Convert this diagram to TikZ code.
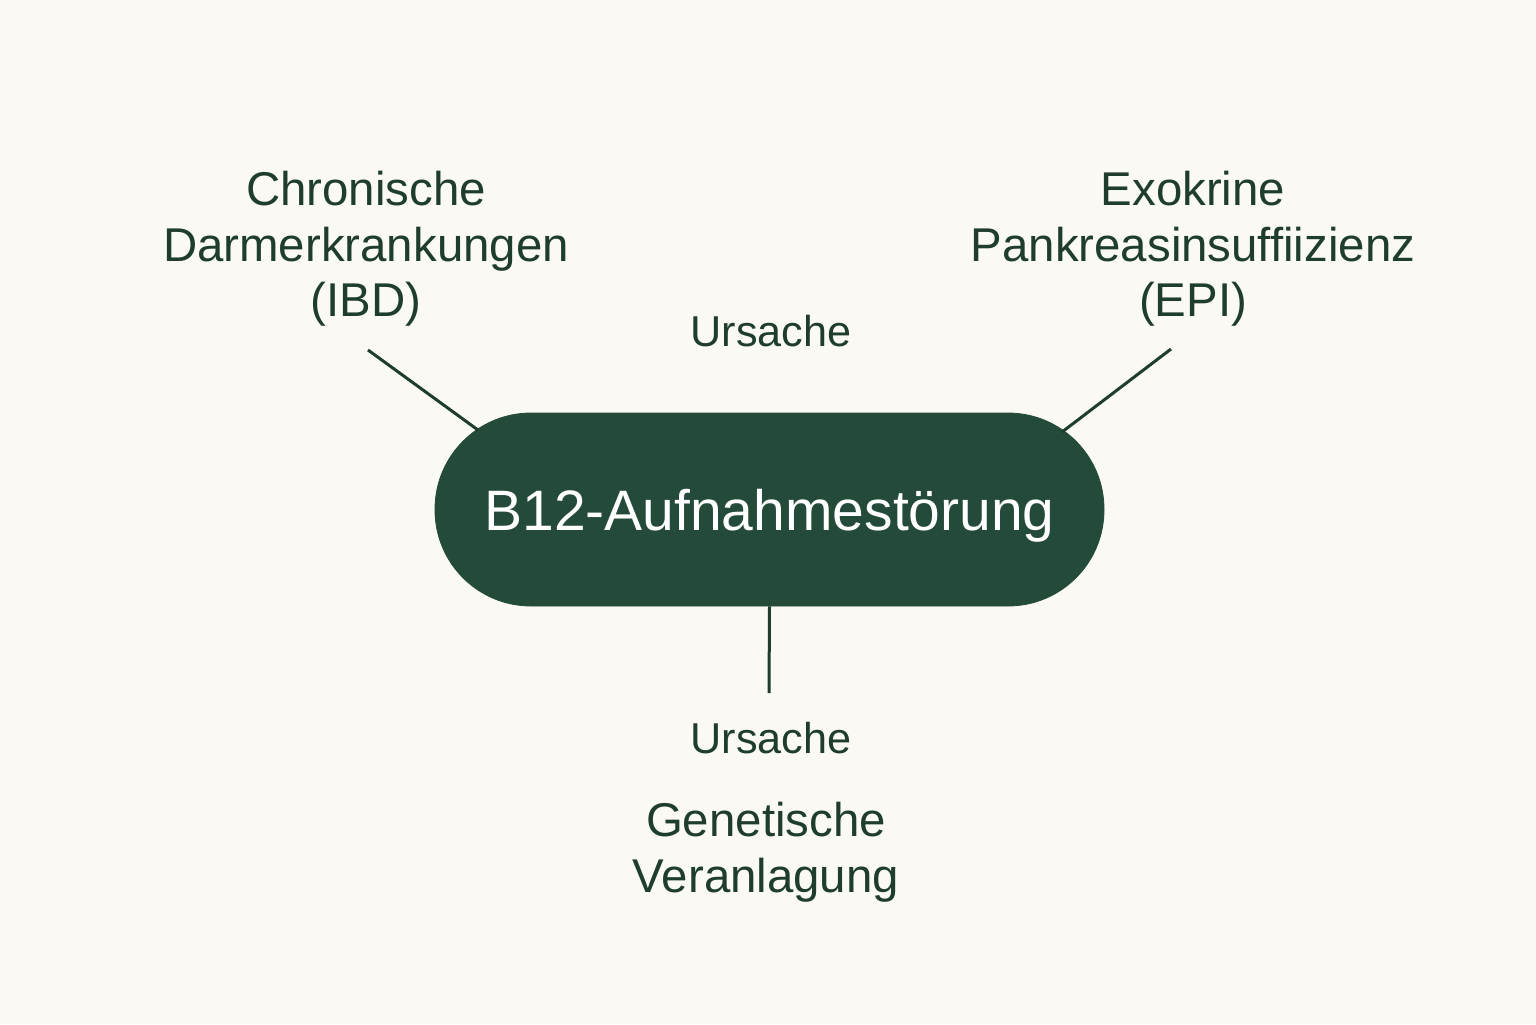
\documentclass[tikz,border=0pt]{standalone}
\usepackage{fontspec}
\setmainfont{Liberation Sans}
\definecolor{bgc}{HTML}{FAF9F4}
\definecolor{ink}{HTML}{1F3D2F}
\definecolor{pillc}{HTML}{244A3A}
\begin{document}
\begin{tikzpicture}[x=0.5pt,y=-0.5pt,
  label/.style={text=ink, align=center, inner sep=0pt, font=\fontsize{23.7pt}{27.8pt}\selectfont},
  ursache/.style={text=ink, inner sep=0pt, font=\fontsize{21.6pt}{26pt}\selectfont},
  pill/.style={fill=pillc, draw=pillc, rounded corners=48pt, minimum width=334.5pt, minimum height=96.5pt, inner sep=0pt, text depth=0pt, text=white, font=\fontsize{28.5pt}{34pt}\selectfont},
  conn/.style={draw=ink, line width=1.5pt}]
\fill[bgc] (0,0) rectangle (1536,1024);
\useasboundingbox (0,0) rectangle (1536,1024);

\node[pill] (pill) at (769.5,509.5) {B12-Aufnahmestörung};

\node[label] (ibd) at (366,249) {Chronische\\Darmerkrankungen\\(IBD)};
\node[label] (epi) at (1193,249) {Exokrine\\Pankreasinsuffiizienz\\(EPI)};
\node[ursache, anchor=base] (u1) at (771,346) {Ursache};
\node[ursache, anchor=base] (u2) at (771,753) {Ursache};
\node[label] (gen) at (766,852) {Genetische\\Veranlagung};

\coordinate (l1) at (368,350);
\coordinate (l2) at (478,430);
\coordinate (r1) at (1171,349);
\coordinate (r2) at (1062,432);
\coordinate (b2) at (769,693);

\draw[conn] (l1) -- (l2);
\draw[conn] (r1) -- (r2);
\draw[conn] (pill.south) -- (b2);
\end{tikzpicture}
\end{document}
